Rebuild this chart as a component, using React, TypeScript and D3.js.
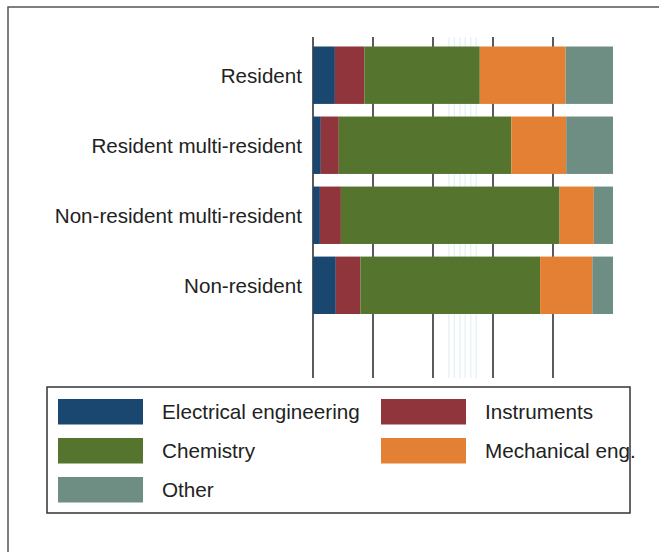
import React from "react";
import * as d3 from "d3";

const categories = [
  "Resident",
  "Resident multi-resident",
  "Non-resident multi-resident",
  "Non-resident",
];
const seriesNames = [
  "Electrical engineering",
  "Instruments",
  "Chemistry",
  "Mechanical eng.",
  "Other",
];
const electrical = [7.3, 2.6, 2.3, 7.6];
const instruments = [9.8, 6.0, 7.0, 8.2];
const chemistry = [38.5, 57.5, 72.9, 59.9];
const mechanical = [28.6, 18.3, 11.4, 17.4];
const other = [15.8, 15.6, 6.4, 6.9];
const seriesValues = [electrical, instruments, chemistry, mechanical, other];
const colors = ["#1a476f", "#90353b", "#55752f", "#e38033", "#6e8e84"];
const gridTicks = [0, 20, 40, 60, 80];
const faintTicks = [45.3, 47.1, 49.0, 50.7, 52.6, 54.4];

const W = 659;
const H = 552;
const FONT = "'Liberation Sans', Arial, Helvetica, sans-serif";

export default function App() {
  const x = d3.scaleLinear().domain([0, 100]).range([313, 613]);
  const y = d3
    .scaleBand<string>()
    .domain(categories)
    .range([46.5, 314])
    .paddingInner(0.18)
    .paddingOuter(0);

  const table = categories.map((c, i) => {
    const row: any = { cat: c };
    seriesNames.forEach((s, j) => (row[s] = seriesValues[j][i]));
    return row;
  });
  const stacked = d3.stack<any>().keys(seriesNames)(table);

  const legendRows = [
    [0, 1],
    [2, 3],
    [4],
  ];
  const legCols = [58, 381];
  const legTextCols = [162, 485];
  const legRowY = [399, 438, 477];

  return (
    <svg
      width={W}
      height={H}
      style={{ position: "absolute", left: 0, top: 0, background: "#fff" }}
      fontFamily={FONT}
    >
      <rect x={0} y={0} width={W} height={H} fill="#fff" />
      <rect
        x={8}
        y={7}
        width={W + 20}
        height={H + 20}
        fill="none"
        stroke="#555"
        strokeWidth={1.5}
      />
      {faintTicks.map((t, i) => (
        <line
          key={"f" + i}
          x1={x(t)}
          x2={x(t)}
          y1={37}
          y2={378}
          stroke="#dcedf2"
          strokeWidth={1}
        />
      ))}
      {gridTicks.map((t) => (
        <line
          key={"g" + t}
          x1={x(t)}
          x2={x(t)}
          y1={37}
          y2={378}
          stroke="#333"
          strokeWidth={1.6}
        />
      ))}
      {stacked.map((layer, j) => (
        <g key={layer.key} fill={colors[j]}>
          {layer.map((d, i) => (
            <rect
              key={i}
              x={x(d[0])}
              y={y(categories[i])}
              width={x(d[1]) - x(d[0])}
              height={y.bandwidth()}
            />
          ))}
        </g>
      ))}
      {categories.map((c) => (
        <text
          key={c}
          x={302}
          y={(y(c) as number) + y.bandwidth() / 2}
          textAnchor="end"
          dominantBaseline="central"
          fontSize={20.6}
          fill="#222"
        >
          {c}
        </text>
      ))}
      <rect
        x={47}
        y={387}
        width={583}
        height={126}
        fill="none"
        stroke="#333"
        strokeWidth={1.5}
      />
      {legendRows.map((row, r) =>
        row.map((si, c) => (
          <g key={"l" + si}>
            <rect
              x={legCols[c]}
              y={legRowY[r]}
              width={85}
              height={25.5}
              fill={colors[si]}
            />
            <text
              x={legTextCols[c]}
              y={legRowY[r] + 12.75}
              dominantBaseline="central"
              fontSize={20.7}
              fill="#222"
            >
              {seriesNames[si]}
            </text>
          </g>
        ))
      )}
    </svg>
  );
}
